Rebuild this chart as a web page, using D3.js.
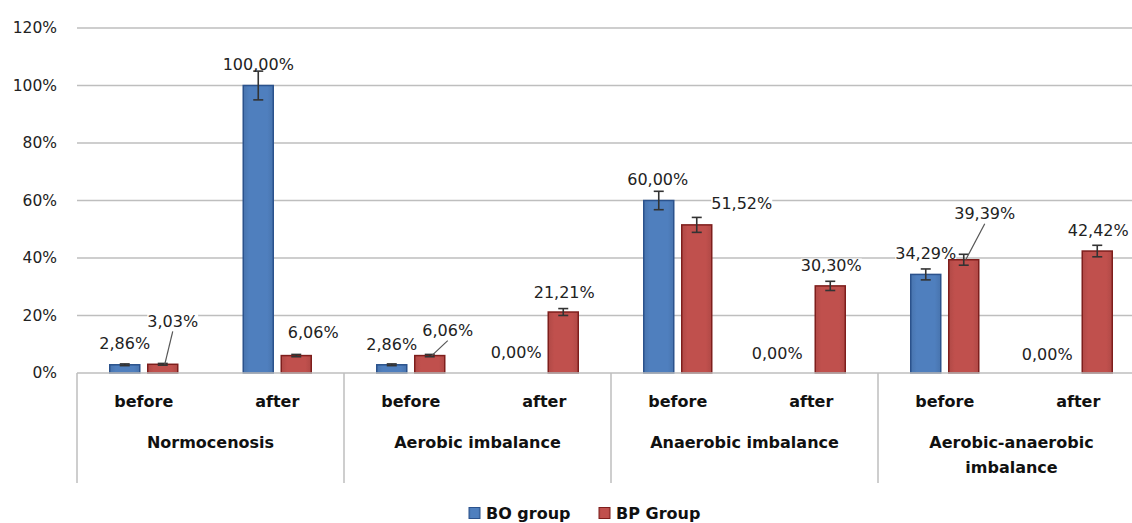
<!DOCTYPE html>
<html>
<head>
<meta charset="utf-8">
<script src="https://cdn.jsdelivr.net/npm/d3@7"></script>
<style>
  html, body { margin: 0; padding: 0; background: #fff; }
  svg { display: block; }
</style>
</head>
<body>
<svg id="chart" width="1132" height="523"></svg>
<script>
// ---- data ----
const groups = ["Normocenosis", "Aerobic imbalance", "Anaerobic imbalance", "Aerobic-anaerobic imbalance"];
const phases = ["before", "after"];
const seriesNames = ["BO group", "BP Group"];
const boValues = [2.86, 100.00, 2.86, 0.00, 60.00, 0.00, 34.29, 0.00];
const bpValues = [3.03, 6.06, 6.06, 21.21, 51.52, 30.30, 39.39, 42.42];
const boErrors = [0.3, 5.0, 0.3, 0, 3.2, 0, 1.9, 0];
const bpErrors = [0.3, 0.4, 0.4, 1.2, 2.6, 1.6, 1.9, 2.0];
const yTicks = [0, 20, 40, 60, 80, 100, 120];

// label placement (px offsets from bar centre / bar top) – layout only
const boLabelNudge = [[0,-21],[0,-21],[0,-20],[-9,-21],[-1,-21],[-15,-20],[0,-21],[-12,-19]];
const bpLabelNudge = [[10,-43],[17,-23],[18,-25],[1,-20],[45,-21],[1,-20],[21,-46],[1,-21]];
const bpLeader = [true,false,true,false,false,false,true,false];

// ---- layout ----
const svg = d3.select("#chart");
const plotLeft = 77, plotRight = 1145, plotTop = 28, plotBase = 373, axisBottom = 483;
const colors = { fill: ["#4F7FBE", "#C0504D"], stroke: ["#2B528C", "#7E1E1C"] };

const y = d3.scaleLinear().domain([0, 120]).range([plotBase, plotTop]);
const x0 = d3.scaleBand().domain(groups).range([plotLeft, plotRight]).padding(0);
const x1 = d3.scaleBand().domain(phases).range([0, x0.bandwidth()]).padding(0);
const x2 = d3.scaleBand().domain(seriesNames).range([0, x1.bandwidth()])
  .paddingInner(0.2105).paddingOuter(0.862);

const fmt = v => d3.format(".2f")(v).replace(".", ",") + "%";

// gradients
const defs = svg.append("defs");
colors.fill.forEach((c, i) => {
  const g = defs.append("linearGradient").attr("id", "g" + i).attr("x1", 0).attr("x2", 1).attr("y1", 0).attr("y2", 0);
  g.append("stop").attr("offset", "0%").attr("stop-color", d3.color(c).darker(0.25));
  g.append("stop").attr("offset", "20%").attr("stop-color", c);
  g.append("stop").attr("offset", "80%").attr("stop-color", c);
  g.append("stop").attr("offset", "100%").attr("stop-color", d3.color(c).darker(0.25));
});

// gridlines
svg.append("g").selectAll("line").data(yTicks.filter(t => t > 0)).join("line")
  .attr("x1", plotLeft).attr("x2", plotRight)
  .attr("y1", d => y(d)).attr("y2", d => y(d))
  .attr("stroke", "#BEBEBE").attr("stroke-width", 1.5);

// y tick labels
svg.append("g").selectAll("text").data(yTicks).join("text")
  .attr("x", 57).attr("y", d => y(d)).attr("dy", "0.35em")
  .attr("text-anchor", "end")
  .attr("font-family", "DejaVu Sans").attr("font-size", 15.5).attr("fill", "#222")
  .text(d => d + "%");

// flatten records
const records = [];
groups.forEach((g, gi) => phases.forEach((p, pi) => {
  const k = gi * 2 + pi;
  records.push({ g, p, k, s: 0, v: boValues[k], e: boErrors[k], n: boLabelNudge[k], lead: false });
  records.push({ g, p, k, s: 1, v: bpValues[k], e: bpErrors[k], n: bpLabelNudge[k], lead: bpLeader[k] });
}));
const bx = d => x0(d.g) + x1(d.p) + x2(seriesNames[d.s]);
const bc = d => bx(d) + x2.bandwidth() / 2;

// label background layer (hides gridlines behind labels)
const labelBg = svg.append("g");

// bars
svg.append("g").selectAll("rect").data(records.filter(d => d.v > 0)).join("rect")
  .attr("x", bx).attr("width", x2.bandwidth())
  .attr("y", d => y(d.v)).attr("height", d => plotBase - y(d.v))
  .attr("fill", d => `url(#g${d.s})`)
  .attr("stroke", d => colors.stroke[d.s]).attr("stroke-width", 1.5);

// category axis lines
svg.append("line").attr("x1", plotLeft).attr("x2", plotRight).attr("y1", plotBase).attr("y2", plotBase)
  .attr("stroke", "#BEBEBE").attr("stroke-width", 1.5);
svg.append("g").selectAll("line").data(groups.concat(["__end"])).join("line")
  .attr("x1", d => d === "__end" ? plotRight : x0(d)).attr("x2", d => d === "__end" ? plotRight : x0(d))
  .attr("y1", plotBase).attr("y2", axisBottom)
  .attr("stroke", "#BEBEBE").attr("stroke-width", 1.5);

// error bars
const eb = svg.append("g").attr("stroke", "#333").attr("stroke-width", 1.6);
records.filter(d => d.e > 0).forEach(d => {
  const cx = bc(d), t = y(d.v + d.e), b = y(d.v - d.e);
  eb.append("line").attr("x1", cx).attr("x2", cx).attr("y1", t).attr("y2", b);
  eb.append("line").attr("x1", cx - 5).attr("x2", cx + 5).attr("y1", t).attr("y2", t);
  eb.append("line").attr("x1", cx - 5).attr("x2", cx + 5).attr("y1", b).attr("y2", b);
});

// leader lines
svg.append("g").selectAll("line").data(records.filter(d => d.lead)).join("line")
  .attr("x1", d => bc(d) + d.n[0]).attr("y1", d => y(d.v) + d.n[1] + 10)
  .attr("x2", d => bc(d) + 2).attr("y2", d => y(d.v))
  .attr("stroke", "#555").attr("stroke-width", 1.2);

// data labels
const labels = svg.append("g").selectAll("text").data(records).join("text")
  .attr("x", d => bc(d) + d.n[0]).attr("y", d => y(d.v) + d.n[1])
  .attr("dy", "0.35em").attr("text-anchor", "middle")
  .attr("font-family", "DejaVu Sans").attr("font-size", 16).attr("fill", "#222")
  .text(d => fmt(d.v));
labels.each(function() {
  const b = this.getBBox();
  labelBg.append("rect").attr("x", b.x).attr("y", b.y + 2).attr("width", b.width).attr("height", b.height - 4)
    .attr("fill", "#fff");
});

// phase labels
svg.append("g").selectAll("text").data(groups.flatMap(g => phases.map(p => ({ g, p })))).join("text")
  .attr("x", d => x0(d.g) + x1(d.p) + x1.bandwidth() / 2).attr("y", 401)
  .attr("dy", "0.35em").attr("text-anchor", "middle")
  .attr("font-family", "DejaVu Sans").attr("font-weight", "bold").attr("font-size", 16).attr("fill", "#111")
  .text(d => d.p);

// group labels with wrapping
const gl = svg.append("g").selectAll("text").data(groups).join("text")
  .attr("x", d => x0(d) + x0.bandwidth() / 2).attr("y", 442)
  .attr("text-anchor", "middle")
  .attr("font-family", "DejaVu Sans").attr("font-weight", "bold").attr("font-size", 16).attr("fill", "#111");
gl.each(function(d) {
  const t = d3.select(this);
  const words = d.split(" ");
  let lines = [], cur = [];
  words.forEach(w => {
    cur.push(w);
    t.text(cur.join(" "));
    if (this.getComputedTextLength() > 230 && cur.length > 1) {
      cur.pop(); lines.push(cur.join(" ")); cur = [w];
    }
  });
  lines.push(cur.join(" "));
  t.text(null);
  lines.forEach((l, i) => t.append("tspan").attr("x", x0(d) + x0.bandwidth() / 2)
    .attr("dy", i === 0 ? "0.35em" : "1.6em").text(l));
});

// legend
const legendX = [469, 599];
const lg = svg.append("g").selectAll("g").data(seriesNames).join("g")
  .attr("transform", (d, i) => `translate(${legendX[i]},513)`);
lg.append("rect").attr("x", 0).attr("y", -5.5).attr("width", 11).attr("height", 11)
  .attr("fill", (d, i) => `url(#g${i})`).attr("stroke", (d, i) => colors.stroke[i]).attr("stroke-width", 1);
lg.append("text").attr("x", 17).attr("y", 0).attr("dy", "0.35em")
  .attr("font-family", "DejaVu Sans").attr("font-weight", "bold").attr("font-size", 16).attr("fill", "#111")
  .text(d => d);
</script>
</body>
</html>
